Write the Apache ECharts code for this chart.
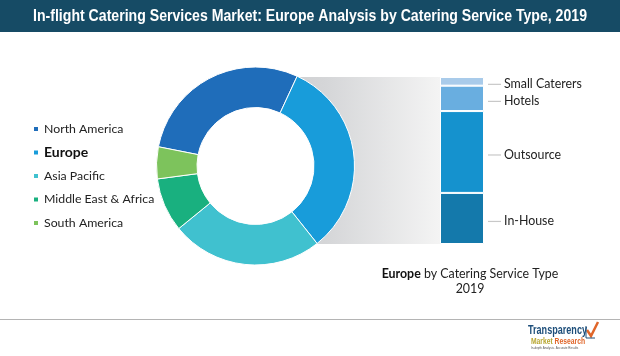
<!DOCTYPE html>
<html>
<head>
<meta charset="utf-8">
<script src="https://cdn.jsdelivr.net/npm/echarts@6/dist/echarts.min.js"></script>
<style>
html,body{margin:0;padding:0;background:#fff;}
#chart{width:620px;height:356px;}
</style>
</head>
<body>
<div id="chart"></div>
<script>
// ---- data ----
var regions = ['North America', 'Europe', 'Asia Pacific', 'Middle East & Africa', 'South America'];
var regionShares = [28.8, 32.4, 24.8, 8.8, 5.2];
var regionColors = ['#1f6dba', '#189cda', '#40c1cf', '#19b07f', '#7dc35c'];

var serviceTypes = ['In-House', 'Outsource', 'Hotels', 'Small Caterers'];
var serviceShares = [30.6, 49.0, 15.2, 5.2];
var serviceColors = ['#1479ab', '#1592ce', '#69aee0', '#a9cbea'];

var chartTitle = 'In-flight Catering Services Market: Europe Analysis by Catering Service Type, 2019';
var subTitleBold = 'Europe';
var subTitleRest = 'by Catering Service Type';
var subTitleYear = '2019';

var chart = echarts.init(document.getElementById('chart'), null, {renderer: 'canvas'});
var txtFont = 'Lato';

function measure(text, font) {
  var c = document.createElement('canvas').getContext('2d');
  c.font = font;
  return c.measureText(text).width;
}
var titleFont = 'bold 17px "Liberation Sans"';
var titleScale = 554 / measure(chartTitle, titleFont);
var logoFont = 'bold 12px "Liberation Sans"';
var logoScale = 59 / measure('Transparency', logoFont);
var mrFont = 'bold 9px "Liberation Sans"';
var mrScale = 54 / measure('Market Research', mrFont);

// left edge of gray band follows the donut ring (hidden behind it)
var cx = 255.5, cy = 166;
var band = [[290, 77], [440, 77], [440, 244], [300, 244]];
for (var a = 60; a >= -65; a -= 5) {
  var rad = a * Math.PI / 180;
  band.push([cx + 78 * Math.cos(rad), cy + 78 * Math.sin(rad)]);
}

var barSeries = serviceTypes.map(function (name, i) {
  return {
    type: 'bar', name: name, stack: 'eu', data: [serviceShares[i]], barWidth: 44,
    itemStyle: {color: serviceColors[i], borderColor: '#fff', borderWidth: 1},
    label: {
      show: true, position: 'right', distance: 4, offset: [0, 3],
      formatter: '{d|}{t|' + name + '}',
      rich: {
        d: {width: 13, height: 1.2, backgroundColor: '#c8c8c8', verticalAlign: 'middle'},
        t: {color: '#222', fontSize: 12.4, fontFamily: txtFont, padding: [0, 0, 0, 3], verticalAlign: 'middle'}
      }
    },
    z: 3
  };
});

var option = {
  animation: false,
  backgroundColor: '#fff',
  title: [{
    text: '{b|' + subTitleBold + '}{n| ' + subTitleRest + '}\n{n|' + subTitleYear + '}',
    left: 465, top: 261, textAlign: 'center',
    textStyle: {
      fontWeight: 'normal',
      rich: {
        b: {fontSize: 12.4, fontWeight: 'bold', color: '#111', fontFamily: txtFont, lineHeight: 15},
        n: {fontSize: 12.4, fontWeight: 'normal', color: '#222', fontFamily: txtFont, lineHeight: 15}
      }
    }
  }],
  legend: {
    orient: 'vertical', left: 32, top: 122, padding: 0,
    icon: 'rect', itemWidth: 6, itemHeight: 6, itemGap: 9.5,
    data: regions.map(function (r) {
      return r === 'Europe'
        ? {name: r, textStyle: {fontSize: 14, fontWeight: 'bold', color: '#111', lineHeight: 14}}
        : {name: r};
    }),
    textStyle: {fontSize: 12.3, color: '#222', fontFamily: txtFont, lineHeight: 14},
    selectedMode: false
  },
  grid: {left: 440, top: 77, width: 44, height: 167},
  xAxis: {type: 'category', data: ['Europe'], show: false},
  yAxis: {type: 'value', min: 0, max: 100, show: false},
  graphic: [
    {type: 'rect', shape: {x: 0, y: 0, width: 620, height: 32}, style: {fill: '#164b65'}, z: 0},
    {type: 'text', x: 310, y: 16.5, scaleX: titleScale,
      style: {text: chartTitle, fill: '#fff', font: titleFont, align: 'center', verticalAlign: 'middle'}, z: 5},
    {type: 'polygon', shape: {points: band},
      style: {fill: new echarts.graphic.LinearGradient(0, 0, 1, 0, [
        {offset: 0, color: '#cfd0d2'}, {offset: 0.25, color: '#d5d6d8'}, {offset: 1, color: '#f4f4f4'}])}, z: 0},
    {type: 'line', shape: {x1: 0, y1: 319.5, x2: 620, y2: 319.5}, style: {stroke: '#b4b4b4', lineWidth: 1}, z: 0},
    {type: 'text', x: 528, y: 325, scaleX: logoScale,
      style: {text: 'Transparency', fill: '#1d4e7a', font: logoFont}, z: 5},
    {type: 'text', x: 531, y: 337, scaleX: mrScale,
      style: {text: '{m|Market }{r|Research}', font: mrFont,
        rich: {m: {fill: '#b8a631', font: mrFont}, r: {fill: '#e0662a', font: mrFont}}}, z: 5},
    {type: 'text', x: 531, y: 347, style: {text: 'In-depth Analysis. Accurate Results', fill: '#555', font: '3px "Liberation Sans"'}, z: 5},
    {type: 'polyline', shape: {points: [[587, 330], [591, 336], [598, 322]]}, style: {stroke: '#e0662a', lineWidth: 2.5, fill: null}, z: 5},
    {type: 'polyline', shape: {points: [[586, 326], [586, 338], [595, 338]]}, style: {stroke: '#1d4e7a', lineWidth: 1, fill: null}, z: 5}
  ],
  series: [{
    type: 'pie', name: 'Regions',
    center: [cx, cy], radius: [58.5, 99],
    startAngle: 168.8, clockwise: true,
    label: {show: false}, labelLine: {show: false},
    itemStyle: {borderColor: '#fff', borderWidth: 1},
    emphasis: {disabled: true},
    data: regions.map(function (r, i) {
      return {name: r, value: regionShares[i], itemStyle: {color: regionColors[i]}};
    }),
    z: 2
  }].concat(barSeries)
};
chart.setOption(option);
</script>
</body>
</html>
